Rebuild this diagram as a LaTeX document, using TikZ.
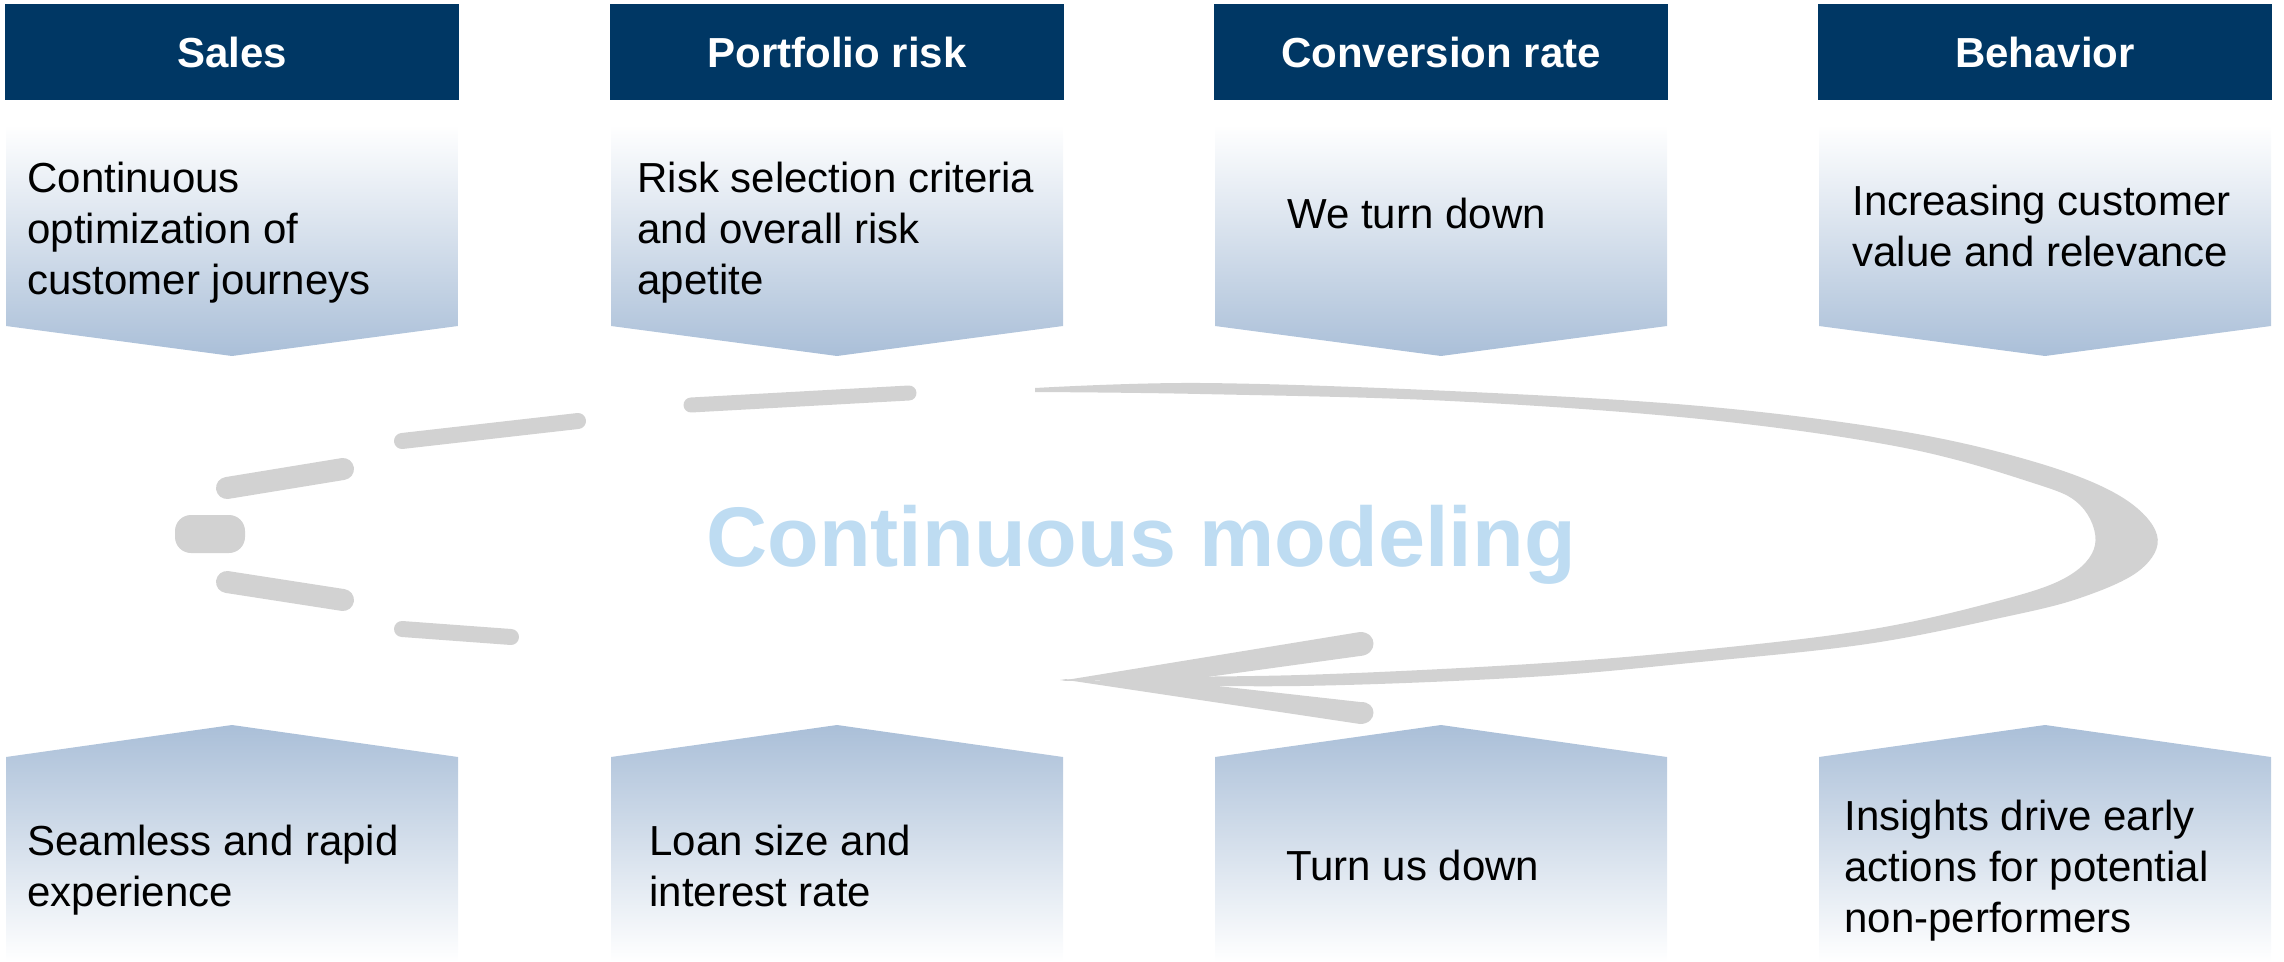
\documentclass[tikz,border=0pt]{standalone}
\usepackage{fontspec}
\setmainfont{Liberation Sans}
\usepackage{tikz}
\definecolor{navy}{RGB}{0,55,100}
\definecolor{boxblue}{RGB}{170,191,216}
\definecolor{pencilgray}{RGB}{210,210,210}
\definecolor{lightblue}{RGB}{190,220,242}
\tikzset{
  header/.style={fill=navy,text=white,font=\fontsize{21}{25}\selectfont\bfseries,
    minimum width=227pt,minimum height=48pt,inner sep=0pt},
  cell/.style={anchor=north west,inner sep=0pt,align=left,
    font=\fontsize{21}{25.5}\selectfont},
  pencil/.style={fill=pencilgray,draw=none},
  dash stroke/.style={draw=pencilgray,line cap=round}
}
\begin{document}
\begin{tikzpicture}[x=0.5pt,y=-0.5pt]
\useasboundingbox (0,0) rectangle (2284,962);
\foreach \c/\t [count=\i] in {232/Sales,837/Portfolio risk,1441/Conversion rate,2045/Behavior}{
  \node[header] (h\i) at (\c,52) {\t};
  \shade[top color=white,bottom color=boxblue]
    ({\c-226},125) -- ({\c+226},125) -- ({\c+226},326) -- (\c,356) -- ({\c-226},326) -- cycle;
  \shade[top color=boxblue,bottom color=white]
    ({\c-226},757) -- (\c,725) -- ({\c+226},757) -- ({\c+226},962) -- ({\c-226},962) -- cycle;
}
\node[cell] (t1) at (27,162) {Continuous\\optimization of\\customer journeys};
\node[cell] (t2) at (637,162) {Risk selection criteria\\and overall risk\\apetite};
\node[cell] (t3) at (1287,198) {We turn down};
\node[cell] (t4) at (1852,185) {Increasing customer\\value and relevance};
\node[cell] (b1) at (27,825) {Seamless and rapid\\experience};
\node[cell] (b2) at (649,825) {Loan size and\\interest rate};
\node[cell] (b3) at (1286,850) {Turn us down};
\node[cell] (b4) at (1844,800) {Insights drive early\\actions for potential\\non-performers};

\fill[pencil,rounded corners=8] (175,515) rectangle (245,553);
\draw[dash stroke,line width=11pt] (227,488) -- (343,469);
\draw[dash stroke,line width=11pt] (227,582) -- (343,600);
\draw[dash stroke,line width=8pt] (402,441) -- (578,421);
\draw[dash stroke,line width=8pt] (402,629) -- (511,637);
\draw[dash stroke,line width=7.5pt] (691,405) -- (909,393);
\fill[pencil] plot[smooth,tension=0.6] coordinates {(1035,388) (1200,383) (1450,391)
    (1700,406) (1900,431) (2035,462) (2120,496) (2157,535) (2140,570) (2080,598)
    (2000,618) (1867,644) (1700,662) (1530,677) (1300,686) (1100,684)}
  -- plot[smooth,tension=0.6] coordinates {(1100,677) (1300,675) (1530,664) (1700,650)
    (1867,630) (1990,603) (2065,578) (2095,545) (2080,505) (2030,482) (1900,447)
    (1700,419) (1450,401) (1200,394) (1035,392)} -- cycle;
\fill[pencil] (1060,681) -- (1360,632) .. controls (1378,632) and (1378,655) .. (1360,656)
  -- (1200,678) -- cycle;
\fill[pencil] (1060,679) -- (1360,724) .. controls (1378,724) and (1378,701) .. (1360,702)
  -- (1200,684) -- cycle;

\node[font=\fontsize{42.3}{50}\selectfont\bfseries,text=lightblue,anchor=base]
  (title) at (1141,566) {Continuous modeling};
\end{tikzpicture}
\end{document}
